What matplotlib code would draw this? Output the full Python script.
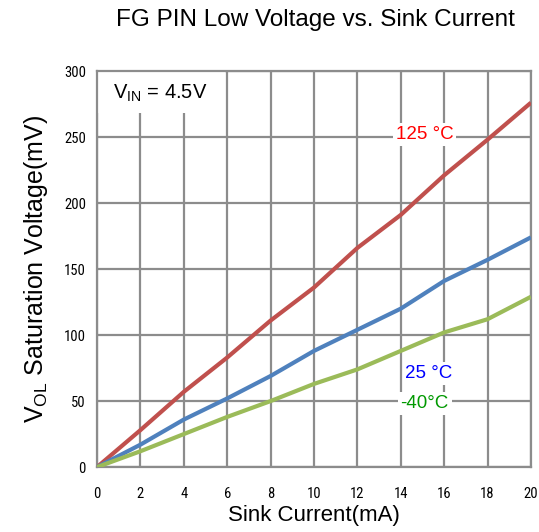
import matplotlib
matplotlib.use("Agg")
import matplotlib.pyplot as plt
from matplotlib import font_manager
from matplotlib.patches import Rectangle

x = [0, 2, 4, 6, 8, 10, 12, 14, 16, 18, 20]
v_125 = [0, 28, 57, 83, 111, 136, 166, 191, 221, 248, 276]
v_25 = [0, 17, 36, 52, 69, 88, 104, 120, 141, 157, 174]
v_m40 = [0, 12, 25, 38, 50, 63, 74, 88, 102, 112, 129]

xticks = [0, 2, 4, 6, 8, 10, 12, 14, 16, 18, 20]
yticks = [0, 50, 100, 150, 200, 250, 300]

names = {f.name for f in font_manager.fontManager.ttflist}
narrow = None
for cand in ["Liberation Sans Narrow", "Roboto Condensed", "Open Sans Condensed", "Noto Sans Condensed"]:
    if cand in names:
        narrow = cand
        break
main = "Liberation Sans"

plt.rcParams['font.family'] = [main, 'DejaVu Sans']

fig = plt.figure(figsize=(5.39, 5.32), dpi=100)
ax = fig.add_axes([0.18, 0.122, 0.805, 0.7445])

grid_c = '#8c8c8c'
ax.set_xlim(0, 20)
ax.set_ylim(0, 300)
ax.set_xticks(xticks)
ax.set_yticks(yticks)
ax.grid(True, color=grid_c, linewidth=1.6)
ax.set_axisbelow(True)
for s in ax.spines.values():
    s.set_color(grid_c)
    s.set_linewidth(1.6)
ax.tick_params(axis='x', length=0, pad=14, labelsize=10.5)
ax.tick_params(axis='y', length=0, pad=8, labelsize=10.5)
for lab in ax.get_xticklabels() + ax.get_yticklabels():
    if narrow:
        lab.set_family(narrow)
    else:
        lab.set_family('DejaVu Sans')
        lab.set_stretch('condensed')

ax.plot(x, v_125, color='#C0504D', linewidth=3, solid_capstyle='butt', zorder=3)
ax.plot(x, v_25, color='#4F81BD', linewidth=3, solid_capstyle='butt', zorder=3)
ax.plot(x, v_m40, color='#9BBB59', linewidth=3, solid_capstyle='butt', zorder=3)

# white box behind VIN label
ax.add_patch(Rectangle((0, 268.5), 5.9, 31.5, facecolor='white', edgecolor='none', zorder=2))
ax.text(2.9, 283, r'V$_{\mathregular{IN}}$ = 4.5V', fontsize=14.5, ha='center', va='center', zorder=4)

bbox = dict(facecolor='white', edgecolor='none', pad=2)
ax.text(15.1, 252, '125 °C', color='#FF0000', fontsize=13.5, ha='center', va='center', bbox=bbox, zorder=4)
ax.text(15.3, 71, '25 °C', color='#0000FF', fontsize=13.5, ha='center', va='center', bbox=bbox, zorder=4)
ax.text(15.1, 48, '-40°C', color='#009900', fontsize=13.5, ha='center', va='center', bbox=bbox, zorder=4)

ax.set_xlabel('Sink Current(mA)', fontsize=16, labelpad=3)
ax.set_ylabel(r'V$_{\mathregular{OL}}$ Saturation Voltage(mV)', fontsize=18, labelpad=10)
fig.text(0.585, 0.962, 'FG PIN Low Voltage vs. Sink Current', fontsize=17.5, ha='center', va='center')

fig.savefig('out.png', dpi=100)
